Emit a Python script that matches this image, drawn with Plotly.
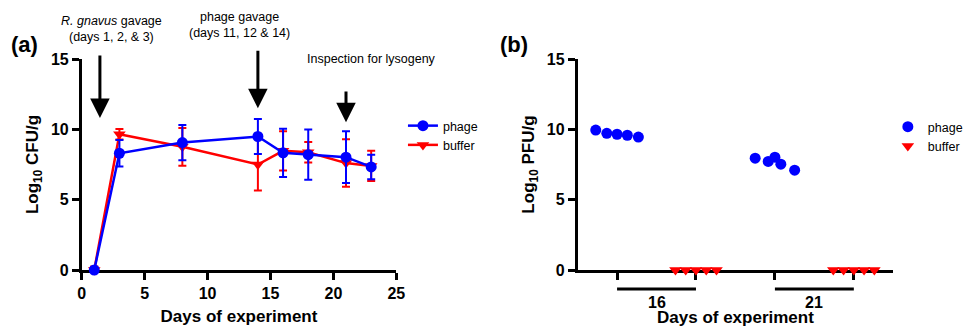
import plotly.graph_objects as go

# ---- Panel (a) data ----
days = [1, 3, 8, 14, 16, 18, 21, 23]
phage_mean = [0, 8.3, 9.06, 9.49, 8.33, 8.2, 8.02, 7.33]
phage_sd = [0, 0.95, 1.25, 1.25, 1.72, 1.78, 1.84, 0.87]
buffer_mean = [0, 9.65, 8.76, 7.5, 8.47, 8.37, 7.6, 7.4]
buffer_sd = [0.25, 0.38, 1.34, 1.85, 1.4, 0.73, 1.69, 1.07]

# ---- Panel (b) data ----
b_group_pos = [1, 2, 3, 4]            # phage16, buffer16, phage21, buffer21
b_phage16 = [9.95, 9.72, 9.65, 9.58, 9.45]
b_phage21 = [7.95, 7.72, 8.02, 7.52, 7.1]
b_buffer16 = [0, 0, 0, 0, 0]
b_buffer21 = [0, 0, 0, 0, 0]
b_jit_phage16 = [-0.27, -0.13, 0, 0.13, 0.27]
b_jit_phage21 = [-0.25, -0.085, 0, 0.075, 0.25]
b_jit_buffer = [-0.26, -0.13, 0, 0.13, 0.26]
b_day_labels = ["16", "21"]

BLUE = "#0000FF"
RED = "#FF0000"
FONT = "Liberation Sans, Arial, sans-serif"

fig = go.Figure()

# Panel (a)
fig.add_trace(go.Scatter(
    x=days, y=buffer_mean, name="buffer", mode="lines+markers",
    line=dict(color=RED, width=2.5),
    marker=dict(symbol="triangle-down", size=11, color=RED),
    error_y=dict(type="data", array=buffer_sd, color=RED, thickness=2, width=4),
    cliponaxis=False, legend="legend", legendrank=2,
    xaxis="x", yaxis="y"))
fig.add_trace(go.Scatter(
    x=days, y=phage_mean, name="phage", mode="lines+markers",
    line=dict(color=BLUE, width=2.5),
    marker=dict(symbol="circle", size=11, color=BLUE),
    error_y=dict(type="data", array=phage_sd, color=BLUE, thickness=2, width=4),
    cliponaxis=False, legend="legend", legendrank=1,
    xaxis="x", yaxis="y"))

# Panel (b)
px = [b_group_pos[0] + j for j in b_jit_phage16] + [b_group_pos[2] + j for j in b_jit_phage21]
py = b_phage16 + b_phage21
bx = [b_group_pos[1] + j for j in b_jit_buffer] + [b_group_pos[3] + j for j in b_jit_buffer]
by = b_buffer16 + b_buffer21
fig.add_trace(go.Scatter(
    x=px, y=py, name="phage", mode="markers",
    marker=dict(symbol="circle", size=11, color=BLUE),
    cliponaxis=False, legend="legend2", legendrank=1,
    xaxis="x2", yaxis="y2"))
fig.add_trace(go.Scatter(
    x=bx, y=by, name="buffer", mode="markers",
    marker=dict(symbol="triangle-down", size=11, color=RED),
    cliponaxis=False, legend="legend2", legendrank=2,
    xaxis="x2", yaxis="y2"))

axis_common = dict(
    showline=True, linewidth=2.5, linecolor="black",
    ticks="outside", ticklen=7, tickwidth=2.5, tickcolor="black",
    showgrid=False, zeroline=False, automargin=False, layer="below traces",
    tickfont=dict(family=FONT, size=16, color="black", weight="bold"),
)
title_font = dict(family=FONT, size=17, color="black", weight="bold")

ytop = (327 - 59) / 327
ybot = (327 - 270) / 327

fig.update_layout(
    template="none",
    width=968, height=327,
    margin=dict(l=0, r=0, t=0, b=0),
    paper_bgcolor="white", plot_bgcolor="white",
    font=dict(family=FONT, color="black"),
    xaxis=dict(domain=[82 / 968, 398 / 968], range=[0, 25], tickvals=[0, 5, 10, 15, 20, 25],
               anchor="y",
               title=dict(text="Days of experiment", font=title_font, standoff=10),
               **axis_common),
    yaxis=dict(domain=[ybot, ytop], range=[0, 15], tickvals=[0, 5, 10, 15], anchor="x",
               title=dict(text="Log<sub>10</sub> CFU/g", font=title_font, standoff=8),
               **axis_common),
    xaxis2=dict(domain=[580 / 968, 897 / 968], range=[0.5, 4.5], tickvals=b_group_pos,
                ticktext=["", "", "", ""], anchor="y2",
                title=dict(text="Days of experiment", font=title_font, standoff=32),
                **axis_common),
    yaxis2=dict(domain=[ybot, ytop], range=[0, 15], tickvals=[0, 5, 10, 15], anchor="x2",
                title=dict(text="Log<sub>10</sub> PFU/g", font=title_font, standoff=8),
                **axis_common),
    legend=dict(x=0.418, y=(327 - 111) / 327, xanchor="left", yanchor="top",
                font=dict(family=FONT, size=12.5, color="black"),
                bgcolor="rgba(0,0,0,0)", tracegroupgap=0),
    legend2=dict(x=0.921, y=(327 - 112) / 327, xanchor="left", yanchor="top",
                 font=dict(family=FONT, size=12.5, color="black"),
                 bgcolor="rgba(0,0,0,0)", tracegroupgap=0),
    showlegend=True,
)

ann_font = dict(family=FONT, size=12.5, color="black")
annotations = [
    dict(text="<b>(a)</b>", x=25 / 968, y=(327 - 45) / 327, xref="paper", yref="paper",
         xanchor="center", yanchor="middle",
         showarrow=False, font=dict(family=FONT, size=22, color="black")),
    dict(text="<b>(b)</b>", x=516 / 968, y=(327 - 45) / 327, xref="paper", yref="paper",
         xanchor="center", yanchor="middle",
         showarrow=False, font=dict(family=FONT, size=22, color="black")),
    dict(text="<i>R. gnavus</i> gavage<br>(days 1, 2, & 3)", x=2.4, y=(327 - 29) / 327,
         xref="x", yref="paper", xanchor="center", yanchor="middle",
         showarrow=False, font=ann_font),
    dict(text="phage gavage<br>(days 11, 12 & 14)", x=12.5, y=(327 - 25) / 327,
         xref="x", yref="paper", xanchor="center", yanchor="middle",
         showarrow=False, font=ann_font),
    dict(text="Inspection for lysogeny", x=23.0, y=(327 - 59) / 327,
         xref="x", yref="paper", xanchor="center", yanchor="middle",
         showarrow=False, font=ann_font),
]
# arrows
for (ax_x, tail, tip) in [(1.45, 15.35, 10.8), (14, 15.7, 11.5), (21, 12.8, 10.5)]:
    annotations.append(dict(
        x=ax_x, y=tip, ax=ax_x, ay=tail, xref="x", yref="y", axref="x", ayref="y",
        text="", showarrow=True, arrowhead=2, arrowsize=1.3, arrowwidth=3,
        arrowcolor="black", standoff=0, startstandoff=0))
# panel (b) day labels
for i, lab in enumerate(b_day_labels):
    annotations.append(dict(
        text="<b>" + lab + "</b>", x=(b_group_pos[2 * i] + b_group_pos[2 * i + 1]) / 2,
        y=-0.152, xref="x2", yref="y2 domain", xanchor="center", yanchor="middle",
        showarrow=False, font=dict(family=FONT, size=16, color="black")))
fig.update_layout(annotations=annotations)

shapes = []
for i in range(2):
    shapes.append(dict(type="line", x0=b_group_pos[2 * i], x1=b_group_pos[2 * i + 1],
                       y0=-0.09, y1=-0.09, xref="x2", yref="y2 domain",
                       line=dict(color="black", width=3)))
fig.update_layout(shapes=shapes)

fig.write_html("out.html", config={"displayModeBar": False},
               post_script="document.body.style.margin='0';document.body.style.overflow='hidden';")
